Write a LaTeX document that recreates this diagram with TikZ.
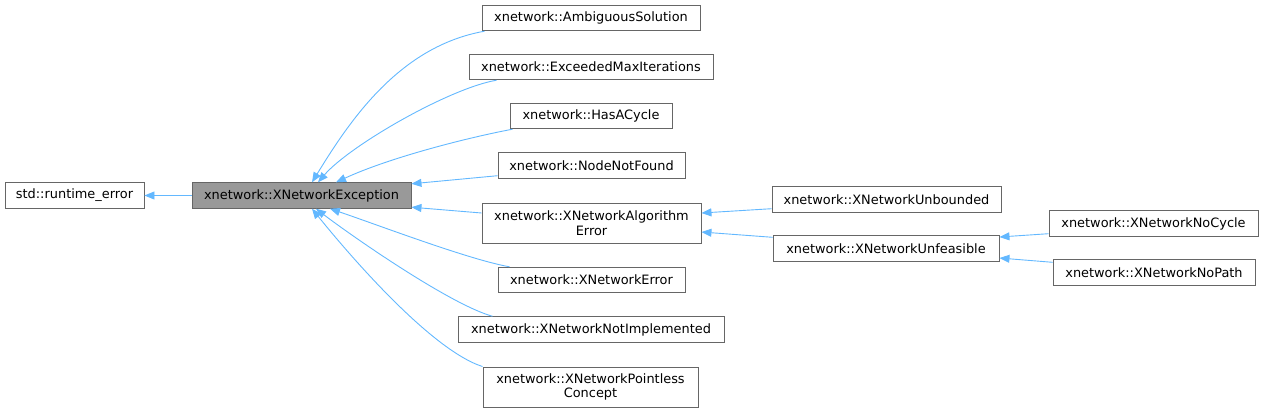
\documentclass[tikz,border=0pt]{standalone}
\usepackage{fontspec}
\setmainfont{DejaVu Sans}
\usetikzlibrary{arrows.meta}
\definecolor{edgeblue}{HTML}{63B8FF}
\definecolor{boxgray}{HTML}{666666}
\definecolor{basegray}{HTML}{999999}
\begin{document}
\begin{tikzpicture}[x=1pt, y=-1pt,
  cls/.style={draw=boxgray, fill=white, line width=0.9pt, inner sep=0pt, minimum height=25.5pt, align=center, font=\fontsize{12.9}{14.5}\selectfont},
  edge/.style={draw=edgeblue, line width=0.9pt, -{Triangle[length=10pt, width=8pt]}}]
\useasboundingbox (0,0) rectangle (1264,413);
\node[cls, minimum width=139pt] (cid0) at (74.5,195.5){std::runtime\_error};
\node[cls, minimum width=219pt, fill=basegray] (cid1) at (301.5,195.5){xnetwork::XNetworkException};
\node[cls, minimum width=218pt] (cid2) at (591,18){xnetwork::AmbiguousSolution};
\node[cls, minimum width=244pt] (cid3) at (591,67){xnetwork::ExceededMaxIterations};
\node[cls, minimum width=162pt] (cid4) at (591,116){xnetwork::HasACycle};
\node[cls, minimum width=187pt] (cid5) at (591.5,165.5){xnetwork::NodeNotFound};
\node[cls, minimum width=219pt, minimum height=40pt] (cid6) at (591.5,223){xnetwork::XNetworkAlgorithm\\Error};
\node[cls, minimum width=187pt] (cid7) at (591.5,280){xnetwork::XNetworkError};
\node[cls, minimum width=266pt] (cid8) at (591,329.5){xnetwork::XNetworkNotImplemented};
\node[cls, minimum width=215pt, minimum height=40pt] (cid9) at (590.5,387){xnetwork::XNetworkPointless\\Concept};
\node[cls, minimum width=229pt] (cid10) at (886.5,199.5){xnetwork::XNetworkUnbounded};
\node[cls, minimum width=226pt] (cid11) at (886,248.5){xnetwork::XNetworkUnfeasible};
\node[cls, minimum width=209pt] (cid12) at (1153.5,223.5){xnetwork::XNetworkNoCycle};
\node[cls, minimum width=202pt] (cid13) at (1154,272.5){xnetwork::XNetworkNoPath};
\draw[edge](cid1.west) -- (cid0.east);
\draw[edge]([xshift=3pt]cid2.south west) .. controls +(-85,15) and +(38,-62) .. ([xshift=10.5pt]cid1.north);
\draw[edge]([xshift=28pt]cid3.south west) .. controls +(-47,8) and +(32,-37) .. ([xshift=16.5pt]cid1.north);
\draw[edge]([xshift=3pt]cid4.south west) .. controls +(-43,8) and +(54,-25) .. ([xshift=34.5pt]cid1.north);
\draw[edge]([yshift=3pt]cid5.south west) -- ([yshift=-1.5pt]cid1.north east);
\draw[edge]([yshift=10pt]cid6.west) -- ([yshift=1.5pt]cid1.south east);
\draw[edge]([xshift=12pt]cid7.north west) .. controls +(-40,-7) and +(50,17) .. ([xshift=28.5pt]cid1.south);
\draw[edge]([xshift=35pt]cid8.north west) .. controls +(-43,-12) and +(34,26) .. ([xshift=14.5pt]cid1.south);
\draw[edge](cid9.north west) .. controls +(-53,-17) and +(33,41) .. ([xshift=10.5pt]cid1.south);
\draw[edge]([yshift=4pt]cid10.south west) -- ([yshift=10pt]cid6.east);
\draw[edge]([yshift=-2pt]cid11.north west) -- ([yshift=-9pt]cid6.east);
\draw[edge]([yshift=3pt]cid12.south west) -- ([yshift=11.5pt]cid11.east);
\draw[edge]([yshift=-3pt]cid13.north west) -- ([yshift=-9.5pt]cid11.east);
\end{tikzpicture}
\end{document}
